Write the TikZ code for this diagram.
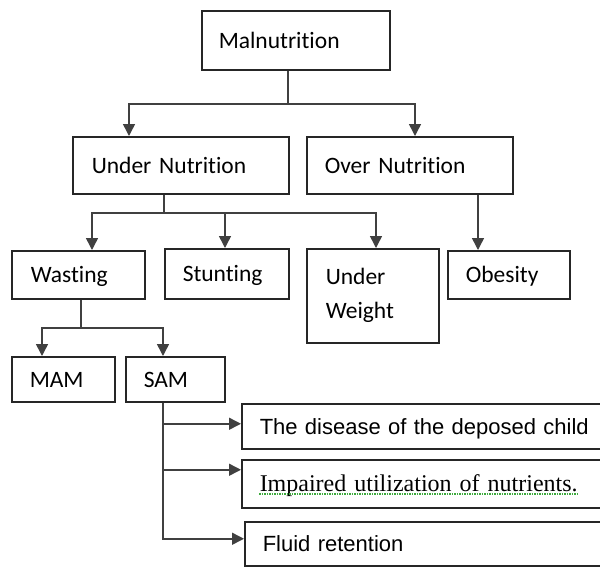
\documentclass[tikz,border=0pt]{standalone}
\usepackage{fontspec}
\setmainfont{Carlito}[Ligatures=NoCommon]
\newfontfamily\arialfont{Liberation Sans}
\newfontfamily\cambfont{Liberation Serif}[WordSpace=0.4]
\definecolor{squiggle}{RGB}{60,170,60}
\usetikzlibrary{arrows.meta, calc}

\begin{document}
\begin{tikzpicture}[x=1pt, y=-1pt,
    base/.style={draw=black!85, line width=1.5pt, anchor=north west, align=left,
        inner ysep=0pt, font=\fontsize{23.5}{34}\selectfont},
    box/.style={base, text height=19pt, text depth=3pt},
    line/.style={draw=black!75, line width=1.5pt},
    arr/.style={line, -{Triangle[length=12pt, width=12pt]}}]
    \useasboundingbox (0,0) rectangle (600,566);

    % Top level
    \node[box, inner xsep=17pt, text width=154pt, minimum height=59pt] (mal) at (201,10) {Malnutrition};

    % Second level
    \node[box, inner xsep=19pt, text width=178pt, minimum height=57pt] (under) at (72,136) {Under Nutrition};
    \node[box, inner xsep=18pt, text width=170pt, minimum height=57pt] (over) at (306,136) {Over Nutrition};

    % Third level
    \node[box, inner xsep=19pt, text width=95pt, minimum height=48pt] (wast) at (11,250) {Wasting};
    \node[box, inner xsep=18pt, text width=88pt, minimum height=50pt] (stunt) at (164,248) {Stunting};
    \node[base, inner xsep=19pt, text width=94pt, minimum height=94pt] (uw) at (306,248) {Under\\Weight};
    \node[box, inner xsep=18pt, text width=86pt, minimum height=48pt] (obes) at (447,250) {Obesity};

    % Fourth level
    \node[box, inner xsep=18pt, text width=67pt, minimum height=45pt] (mam) at (11,356) {MAM};
    \node[box, inner xsep=18pt, text width=63pt, minimum height=45pt] (sam) at (125,356) {SAM};

    % SAM details
    \node[box, inner xsep=18pt, text width=344pt, minimum height=45pt,
        font=\arialfont\fontsize{22}{26}\selectfont] (dis) at (241,403) {The disease of the deposed child};
    \node[box, inner xsep=18pt, text width=344pt, minimum height=48pt,
        font=\cambfont\fontsize{24}{28}\selectfont] (imp) at (241,459) {Impaired utilization of nutrients.};
    \node[box, inner xsep=18pt, text width=344pt, minimum height=44pt,
        font=\arialfont\fontsize{22}{26}\selectfont] (fluid) at (244,521) {Fluid retention};
    \draw[squiggle, densely dotted, line width=1.5pt] ([xshift=18pt,yshift=-10pt]imp.west) -- ++(318,0);

    % Connectors
    \coordinate (j1) at (288,104);
    \draw[line] (mal.south -| j1) -- (j1);
    \draw[arr] (j1) -| ([xshift=57pt]under.north west);
    \draw[arr] (j1) -| ([xshift=109pt]over.north west);

    \coordinate (j2) at (164,213);
    \draw[line] (under.south -| j2) -- (j2);
    \draw[arr] (j2) -| ([xshift=81pt]wast.north west);
    \draw[arr] (j2) -| ([xshift=61pt]stunt.north west);
    \draw[arr] (j2) -| ([xshift=70pt]uw.north west);
    \draw[arr] ([xshift=172pt]over.south west) -- ([xshift=31pt]obes.north west);

    \coordinate (j3) at (81,328);
    \draw[line] (wast.south -| j3) -- (j3);
    \draw[arr] (j3) -| ([xshift=31pt]mam.north west);
    \draw[arr] (j3) -| ([xshift=38pt]sam.north west);

    \draw[arr] ([xshift=38pt]sam.south west) |- ([yshift=2.5pt]dis.west);
    \draw[arr] ([xshift=38pt]sam.south west) |- ([yshift=14pt]imp.west);
    \draw[arr] ([xshift=38pt]sam.south west) |- ([yshift=5pt]fluid.west);
\end{tikzpicture}
\end{document}
